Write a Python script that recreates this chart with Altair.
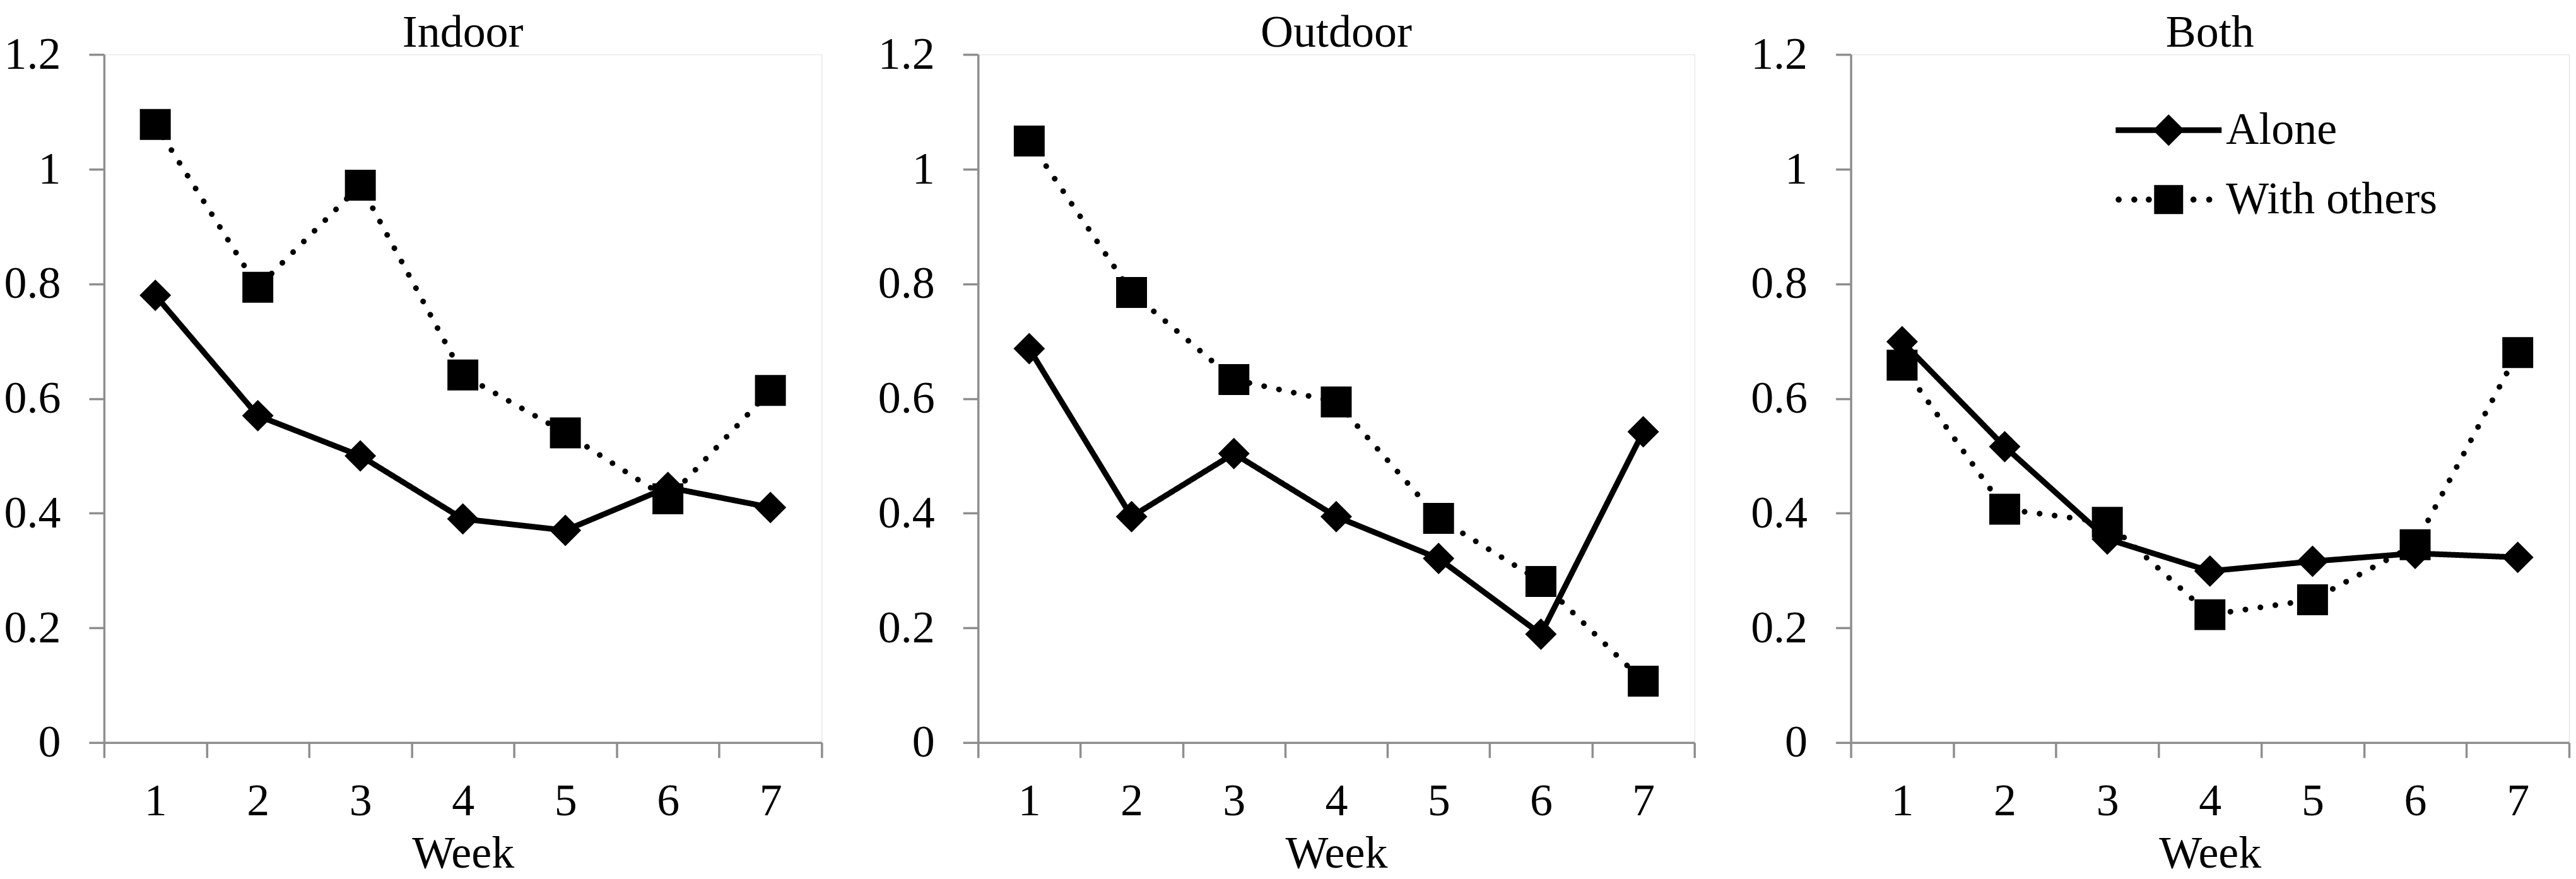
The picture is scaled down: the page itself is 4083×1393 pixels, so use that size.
import altair as alt
import pandas as pd

# ---------------- data ----------------
weeks = [1, 2, 3, 4, 5, 6, 7]
series_names = ["Alone", "With others"]
panel_titles = ["Indoor", "Outdoor", "Both"]

indoor_alone = [0.780, 0.570, 0.500, 0.390, 0.370, 0.445, 0.410]
indoor_others = [1.078, 0.794, 0.972, 0.641, 0.540, 0.425, 0.614]
outdoor_alone = [0.687, 0.394, 0.504, 0.394, 0.321, 0.189, 0.542]
outdoor_others = [1.049, 0.785, 0.633, 0.594, 0.391, 0.281, 0.107]
both_alone = [0.699, 0.516, 0.355, 0.299, 0.316, 0.330, 0.323]
both_others = [0.658, 0.407, 0.384, 0.223, 0.249, 0.345, 0.680]

y_ticks = [0, 0.2, 0.4, 0.6, 0.8, 1.0, 1.2]

# ---------------- styling ----------------
FONT = "Liberation Serif"
FS = 72
GRAY = "#8e8e8e"
PANEL_H = 1091


def legend_paths():
    # custom legend symbols (unit = sqrt(size)/2 px)
    alone = "M-4.2,-0.225H4.2V0.225H-4.2Z M0,-1.25L1.25,0L0,1.25L-1.25,0Z"
    r = 0.24
    dots = ""
    for cx in [-3.96, -2.72, -1.57, 1.97, 3.22]:
        dots += f"M{cx - r:.3f},0A{r},{r} 0 1,0 {cx + r:.3f},0A{r},{r} 0 1,0 {cx - r:.3f},0Z "
    others = dots + "M-1.15,-1.15H1.15V1.15H-1.15Z"
    return [alone, others]


def panel(title, alone, others, width, with_legend=False):
    df = pd.DataFrame({
        "Week": weeks + weeks,
        "value": alone + others,
        "series": [series_names[0]] * len(weeks) + [series_names[1]] * len(weeks),
    })
    base = alt.Chart(df)
    x = alt.X(
        "Week:O",
        scale=alt.Scale(type="band", paddingInner=0, paddingOuter=0),
        axis=alt.Axis(
            title="Week", labelAngle=0, tickBand="extent", grid=False,
            tickSize=24, tickWidth=3.5, tickColor=GRAY,
            domainColor=GRAY, domainWidth=3.5,
            labelFont=FONT, labelFontSize=FS, labelColor="black", labelPadding=34,
            titleFont=FONT, titleFontSize=FS, titleFontWeight="normal",
            titleColor="black", titlePadding=12,
        ),
    )
    y = alt.Y(
        "value:Q",
        scale=alt.Scale(domain=[0, 1.2], nice=False, zero=True),
        axis=alt.Axis(
            title=None, values=y_ticks, format=".1~f", grid=False,
            tickSize=24, tickWidth=3.5, tickColor=GRAY,
            domainColor=GRAY, domainWidth=3.5,
            labelFont=FONT, labelFontSize=FS, labelColor="black", labelPadding=45,
        ),
    )
    lines = base.mark_line(
        color="black", strokeWidth=9, strokeCap="round", strokeJoin="round"
    ).encode(
        x=x, y=y,
        detail="series:N",
        strokeDash=alt.StrokeDash(
            "series:N",
            scale=alt.Scale(domain=series_names, range=[[1, 0], [0.1, 23.9]]),
            legend=None,
        ),
    )
    points = base.mark_point(
        filled=True, opacity=1, color="black", strokeWidth=0
    ).encode(
        x=x, y=y,
        shape=alt.Shape(
            "series:N",
            scale=alt.Scale(domain=series_names, range=["diamond", "square"]),
            legend=None,
        ),
        size=alt.condition(
            alt.datum.series == series_names[0], alt.value(2500), alt.value(2400)
        ),
    )
    layers = [lines, points]
    if with_legend:
        leg = base.transform_filter("false").mark_point(
            filled=True, opacity=1, color="black", strokeWidth=0
        ).encode(
            x=x, y=y,
            shape=alt.Shape(
                "series:N",
                scale=alt.Scale(domain=series_names, range=legend_paths()),
                legend=alt.Legend(
                    title=None, orient="none", legendX=468, legendY=84,
                    labelFont=FONT, labelFontSize=FS, labelColor="black",
                    labelOffset=55, labelLimit=0, rowPadding=38,
                    symbolSize=1600, symbolFillColor="black",
                    symbolStrokeColor="black", symbolStrokeWidth=0,
                    symbolOpacity=1,
                ),
            ),
        )
        layers.append(leg)
    ch = alt.layer(*layers).properties(
        width=width, height=PANEL_H,
        title=alt.Title(
            title, font=FONT, fontSize=FS, fontWeight="normal",
            color="black", anchor="middle", offset=-39,
        ),
    )
    if with_legend:
        ch = ch.resolve_scale(shape="independent")
    return ch


p1 = panel(panel_titles[0], indoor_alone, indoor_others, 1138)
p2 = panel(panel_titles[1], outdoor_alone, outdoor_others, 1136)
p3 = panel(panel_titles[2], both_alone, both_others, 1139, with_legend=True)

chart = alt.hconcat(p1, p2, p3, spacing=85).properties(
    padding={"left": -3, "top": 7, "right": 0, "bottom": 0}
).configure_view(stroke=None).configure(font=FONT, background="white")

chart.save("out.html", embed_options={"renderer": "svg", "actions": False})
